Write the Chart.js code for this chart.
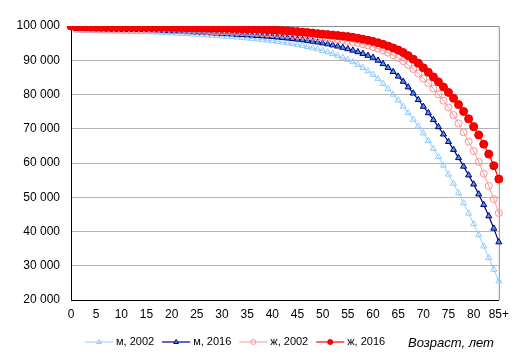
<!DOCTYPE html>
<html>
<head>
<meta charset="utf-8">
<title>Survival curves</title>
<script src="https://cdn.jsdelivr.net/npm/chart.js@4.4.0/dist/chart.umd.min.js"></script>
<style>
    html, body { margin: 0; padding: 0; background: #fff; }
    #wrap { width: 516px; height: 358px; }
</style>
</head>
<body>
<div id="wrap"><canvas id="survChart" width="516" height="358"></canvas></div>
<script>
// ages 0..85+
const ageLabels = ['0','1','2','3','4','5','6','7','8','9','10','11','12','13','14','15','16','17','18','19',
    '20','21','22','23','24','25','26','27','28','29','30','31','32','33','34','35','36','37','38','39',
    '40','41','42','43','44','45','46','47','48','49','50','51','52','53','54','55','56','57','58','59',
    '60','61','62','63','64','65','66','67','68','69','70','71','72','73','74','75','76','77','78','79',
    '80','81','82','83','84','85+'];

const yTickValues = [20000, 30000, 40000, 50000, 60000, 70000, 80000, 90000, 100000];

const seriesNames = ['м, 2002', 'м, 2016', 'ж, 2002', 'ж, 2016'];

const male2002 = [100000, 98800, 98720, 98660, 98610, 98570, 98530, 98500, 98470, 98440,
    98410, 98380, 98350, 98320, 98290, 98260, 98220, 98170, 98110, 98040,
    97960, 97880, 97790, 97700, 97610, 97520, 97420, 97320, 97220, 97120,
    97020, 96920, 96820, 96710, 96590, 96460, 96320, 96170, 96010, 95840,
    95660, 95470, 95270, 95050, 94810, 94550, 94260, 93940, 93590, 93210,
    92800, 92350, 91860, 91340, 90780, 90200, 89500, 88700, 87820, 86860,
    85800, 84550, 83150, 81650, 80030, 78300, 76500, 74630, 72700, 70720,
    68700, 66500, 64200, 61800, 59300, 56700, 54000, 51200, 48300, 45300,
    42200, 39000, 35700, 32300, 28900, 25500];

const male2016 = [100000, 99220, 99160, 99120, 99090, 99060, 99040, 99020, 99000, 98980,
    98960, 98940, 98920, 98900, 98870, 98840, 98800, 98750, 98690, 98620,
    98550, 98480, 98410, 98340, 98270, 98200, 98120, 98040, 97960, 97880,
    97800, 97720, 97640, 97550, 97460, 97370, 97280, 97180, 97080, 96970,
    96850, 96720, 96580, 96430, 96270, 96100, 95920, 95720, 95500, 95260,
    95000, 94720, 94410, 94070, 93700, 93300, 92880, 92420, 91920, 91380,
    90800, 89950, 88950, 87830, 86630, 85300, 83800, 82150, 80350, 78470,
    76500, 74600, 72600, 70540, 68400, 66200, 63900, 61500, 59000, 56450,
    53800, 50900, 47800, 44500, 40900, 36900];

const female2002 = [100000, 99180, 99120, 99080, 99050, 99030, 99010, 99000, 98990, 98980,
    98970, 98960, 98950, 98940, 98920, 98900, 98880, 98860, 98830, 98800,
    98770, 98730, 98690, 98650, 98610, 98570, 98530, 98490, 98450, 98410,
    98370, 98320, 98270, 98220, 98170, 98110, 98050, 97990, 97920, 97850,
    97770, 97690, 97600, 97510, 97410, 97300, 97180, 97050, 96910, 96760,
    96600, 96440, 96260, 96060, 95840, 95600, 95330, 95030, 94690, 94310,
    93900, 93420, 92860, 92220, 91500, 90700, 89750, 88650, 87450, 86150,
    84700, 83300, 81750, 80050, 78200, 76200, 74000, 71550, 68950, 66250,
    63500, 60300, 56900, 53300, 49450, 45400];

const female2016 = [100000, 99810, 99780, 99760, 99750, 99740, 99730, 99720, 99710, 99700,
    99690, 99680, 99670, 99660, 99650, 99640, 99630, 99620, 99610, 99600,
    99580, 99560, 99540, 99520, 99500, 99480, 99460, 99430, 99400, 99370,
    99340, 99310, 99270, 99230, 99190, 99150, 99100, 99050, 98990, 98920,
    98850, 98770, 98680, 98580, 98470, 98350, 98220, 98080, 97930, 97770,
    97600, 97490, 97365, 97225, 97070, 96900, 96680, 96430, 96150, 95840,
    95500, 95100, 94650, 94150, 93600, 93000, 92250, 91350, 90300, 89100,
    87800, 86500, 85130, 83690, 82180, 80600, 78900, 77050, 75050, 72900,
    70600, 68200, 65500, 62600, 59200, 55300];

window.lifeTable = window.lifeTable || {};
window.lifeTable.SurvivalChart = function() {
    this.logPrefix = '[SurvivalChart] ';
};

window.lifeTable.SurvivalChart.prototype = function() {
    var self = this;
    var fontFamily = '"Liberation Sans", Arial, sans-serif';

    var styles = [
        { line: '#99ccff', marker: 'triangle', fill: 'rgba(0,0,0,0)', edge: '#8fcbff', width: 1, radius: 3.5 },
        { line: '#000080', marker: 'triangle', fill: '#4a94e6', edge: '#000080', width: 1.2, radius: 3.5 },
        { line: '#ff9999', marker: 'circle', fill: 'rgba(0,0,0,0)', edge: '#ff9090', width: 1, radius: 3.5 },
        { line: '#ff0000', marker: 'circle', fill: '#ff0000', edge: '#e00000', width: 1.2, radius: 4 }
    ];

    var init = function(canvasId) {
        self = this;
        self.canvas = document.getElementById(canvasId);
        self.series = [male2002, male2016, female2002, female2016];
        renderChart();
    };

    var fmtThousands = function(v) {
        return String(v).replace(/\B(?=(\d{3})+(?!\d))/g, ' ');
    };

    var buildDatasets = function() {
        // draw order: f2016 on top, m2002 at the bottom
        return self.series.map(function(data, i) {
            var s = styles[i];
            return {
                label: seriesNames[i],
                data: data,
                borderColor: s.line,
                borderWidth: s.width,
                pointStyle: s.marker,
                pointRadius: s.radius,
                pointBackgroundColor: s.fill,
                pointBorderColor: s.edge,
                pointBorderWidth: 1,
                tension: 0,
                fill: false,
                order: 3 - i
            };
        });
    };

    var frame = {
        id: 'frame',
        beforeDatasetsDraw: function(chart) {
            var a = chart.chartArea, ctx = chart.ctx;
            ctx.save();
            ctx.strokeStyle = '#8c8c8c';
            ctx.lineWidth = 1;
            ctx.beginPath();
            ctx.moveTo(a.left, a.top + 0.5);
            ctx.lineTo(a.right + 0.5, a.top + 0.5);
            ctx.lineTo(a.right + 0.5, a.bottom);
            ctx.stroke();
            ctx.restore();
        }
    };

    var drawMarker = function(ctx, s, x, y, r) {
        ctx.beginPath();
        if (s.marker === 'triangle') {
            ctx.moveTo(x, y - r);
            ctx.lineTo(x + r * 0.95, y + r * 0.6);
            ctx.lineTo(x - r * 0.95, y + r * 0.6);
            ctx.closePath();
        } else {
            ctx.arc(x, y, r, 0, Math.PI * 2);
        }
        ctx.fillStyle = s.fill;
        ctx.fill();
        ctx.strokeStyle = s.edge;
        ctx.lineWidth = 1;
        ctx.stroke();
    };

    var legendBar = {
        id: 'legendBar',
        afterDraw: function(chart) {
            var ctx = chart.ctx;
            var x = 85, y = 342;
            ctx.save();
            ctx.font = '11px ' + fontFamily;
            ctx.textBaseline = 'middle';
            seriesNames.forEach(function(name, i) {
                var s = styles[i];
                ctx.strokeStyle = s.line;
                ctx.lineWidth = s.width;
                ctx.beginPath();
                ctx.moveTo(x, y);
                ctx.lineTo(x + 28, y);
                ctx.stroke();
                drawMarker(ctx, s, x + 14, y, 2.5);
                ctx.fillStyle = '#000';
                ctx.fillText(name, x + 31, y);
                x += 31 + ctx.measureText(name).width + 8;
            });
            ctx.font = 'italic 13px ' + fontFamily;
            ctx.fillText('Возраст, лет', 408, y + 1);
            ctx.restore();
        }
    };

    var renderChart = function() {
        self.chart = new Chart(self.canvas, {
            type: 'line',
            data: { labels: ageLabels, datasets: buildDatasets() },
            options: {
                responsive: false,
                animation: false,
                devicePixelRatio: 1,
                layout: { padding: { left: 0, right: 16, top: 26, bottom: 0 } },
                plugins: { legend: { display: false }, tooltip: { enabled: false } },
                scales: {
                    x: {
                        type: 'category',
                        grid: { display: false, drawTicks: false },
                        border: { color: '#000', width: 1 },
                        ticks: {
                            autoSkip: false, maxRotation: 0, padding: 7, color: '#000',
                            font: { family: fontFamily, size: 12 },
                            callback: function(v, i) { return i % 5 === 0 || i === ageLabels.length - 1 ? this.getLabelForValue(v) : ''; }
                        },
                        afterFit: function(scale) { scale.height = 58; }
                    },
                    y: {
                        min: yTickValues[0],
                        max: yTickValues[yTickValues.length - 1],
                        afterBuildTicks: function(scale) { scale.ticks = yTickValues.map(function(v) { return { value: v }; }); },
                        grid: { color: '#b4b4b4', drawTicks: false },
                        border: { color: '#000', width: 1 },
                        ticks: {
                            padding: 11, color: '#000',
                            font: { family: fontFamily, size: 12 },
                            callback: function(v) { return fmtThousands(v); }
                        },
                        afterFit: function(scale) { scale.width = 71; }
                    }
                }
            },
            plugins: [frame, legendBar]
        });
    };

    var log = function(data) {
        console.log(self.logPrefix, data);
    };

    return { init: init, log: log };
}();

new window.lifeTable.SurvivalChart().init('survChart');
</script>
</body>
</html>
